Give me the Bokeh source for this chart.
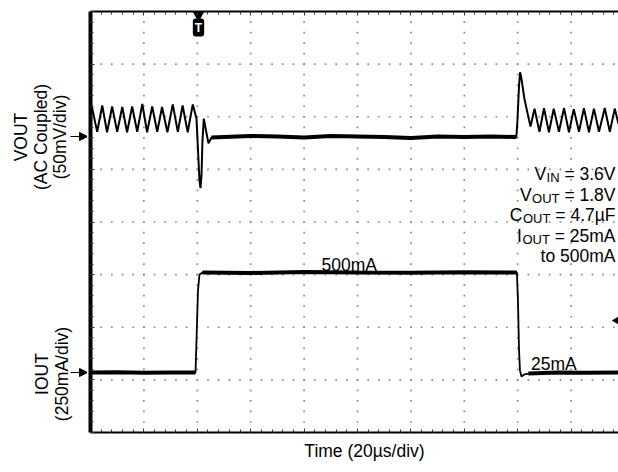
import numpy as np
from math import pi
from bokeh.plotting import figure
from bokeh.layouts import row, column
from bokeh.models import (Range1d, LinearAxis, SingleIntervalTicker, CustomJSTickFormatter,
                          Label, Arrow, NormalHead)
from bokeh.core.properties import value
from bokeh.embed import file_html
from bokeh.resources import INLINE

# ---------------- data ----------------
# VOUT, AC coupled, mV relative to the heavy-load level; time in µs from trigger
vout_t = [-40.0, -39.6, -37.5, -35.6, -33.8, -31.9, -30.0, -28.1, -26.3, -24.4, -22.5,
          -20.6, -18.8, -16.9, -15.0, -13.2, -11.2, -9.2, -7.3, -5.5, -3.6, -1.7,
          -0.3, 0.26, 0.82, 1.19, 1.57, 1.94, 2.43, 3.25, 4.19, 5.31,
          10, 20, 30, 40, 50, 60, 70, 80, 90, 100, 110, 119.5,
          119.9, 120.5, 120.9, 121.4, 122.5, 123.7, 124.8,
          126.3, 128.15, 129.85, 131.7, 133.5, 135.45, 137.35, 139.2, 141.0, 142.95,
          144.8, 146.7, 148.55, 150.45, 152.6, 154.5, 156.35, 157.75]
vout_mv = [24, 29.5, 4.5, 29.5, 4.0, 28.5, 4.5, 28, 4, 28.5, 4.5,
           31, 4, 28.5, 4.5, 28, 4, 30.5, 4.5, 29.5, 4, 30.5,
           17, -13, -42, -49, -37, -4, 17, 5.7, -6.5, -1,
           -0.5, 0.5, 0, -1, 0.5, 0, -0.5, -1.5, 0, -0.5, 0, -0.5,
           15, 48.5, 61, 55, 36, 22, 9.5,
           26.5, 4.5, 27, 4, 26.5, 4.5, 27, 4, 26, 4.5,
           27, 4, 26.5, 4.5, 27, 4.5, 26.5, 12]
# IOUT in mA
iout_t = [-40, -30, -20, -10, -0.68, -0.3, 0.26, 0.82, 1.94, 20, 40, 60, 80, 100,
          119.7, 120.1, 120.5, 120.85, 121.4, 122.5, 124.0, 135, 145, 157.75]
iout_ma = [25, 26, 24, 25, 25, 177, 415, 491, 500, 498, 502, 500, 499, 501,
           500, 367, 130, 35, 6, 16, 20, 25, 24, 25]

vout_label_lines = ["VOUT", "(AC Coupled)", "(50mV/div)"]
iout_label_lines = ["IOUT", "(250mA/div)"]
x_label = "Time (20µs/div)"
level_labels = ["500mA", "25mA"]
cond_base = ["V", "V", "C", "I"]
cond_sub = ["IN", "OUT", "OUT", "OUT"]
cond_val = ["= 3.6V", "= 1.8V", "= 4.7µF", "= 25mA"]
cond_extra = "to 500mA"

US_PER_DIV = 20
MV_PER_DIV = 50
MA_PER_DIV = 250
T_LEFT = -40.0

# ---------------- layout (page pixels) ----------------
PAGE_W = 618
STRIP_W = 87          # left label strip
MAIN_BL = 3           # main figure left border
FR_L = STRIP_W + MAIN_BL
FR_T, FR_B = 11, 432
MAIN_BB = 2
MAIN_H = FR_B + MAIN_BB
BOT_H = 33
VIS_R = PAGE_W
PX_DIV_X = 53.4
PX_DIV_Y = (FR_B - FR_T) / 8.0
FONT = "Liberation Sans"
FS = 17.5

def tx(px):
    return T_LEFT + (px - FR_L) / PX_DIV_X * US_PER_DIV

def dy(py):
    return (FR_B - py) / PX_DIV_Y

vout_zero_div = dy(136.0)
iout_zero_div = dy(372.0) - 25.0 / MA_PER_DIV

# ---------------- main scope figure ----------------
p = figure(width=PAGE_W - STRIP_W, height=MAIN_H, output_backend="svg", toolbar_location=None,
           x_range=Range1d(T_LEFT, tx(VIS_R)), y_range=Range1d(0, 8),
           min_border_left=MAIN_BL, min_border_right=0,
           min_border_top=FR_T, min_border_bottom=MAIN_BB,
           background_fill_color="white", border_fill_color="white")
p.outline_line_color = None
p.xgrid.visible = False
p.ygrid.visible = False
p.extra_y_ranges = {
    "vout": Range1d(-vout_zero_div * MV_PER_DIV, (8 - vout_zero_div) * MV_PER_DIV),
    "iout": Range1d(-iout_zero_div * MA_PER_DIV, (8 - iout_zero_div) * MA_PER_DIV),
}

blank = CustomJSTickFormatter(code="return ''")

def style_axis(ax, width):
    ax.axis_line_width = width
    ax.axis_line_color = "black"
    ax.major_tick_in = 4
    ax.major_tick_out = 0
    ax.minor_tick_in = 3
    ax.minor_tick_out = 0
    ax.major_tick_line_color = "#333333"
    ax.minor_tick_line_color = "#333333"
    ax.formatter = blank
    ax.major_label_text_font_size = "0px"
    ax.major_label_standoff = 0

p.xaxis.ticker = SingleIntervalTicker(interval=US_PER_DIV, num_minor_ticks=5)
p.yaxis.ticker = SingleIntervalTicker(interval=1, num_minor_ticks=5)
style_axis(p.xaxis[0], 2)
style_axis(p.yaxis[0], 4)
top = LinearAxis(ticker=SingleIntervalTicker(interval=US_PER_DIV, num_minor_ticks=5))
style_axis(top, 2)
p.add_layout(top, "above")

# dotted graticule
gx, gy = [], []
for d in range(1, 8):
    xs = T_LEFT + np.arange(0, 51) * 0.2 * US_PER_DIV
    gx.extend(xs); gy.extend([d] * len(xs))
for d in range(1, 10):
    ys = np.arange(0, 41) * 0.2
    gx.extend([T_LEFT + d * US_PER_DIV] * len(ys)); gy.extend(ys)
p.scatter(gx, gy, marker="square", size=1.7, fill_color="#8a8a8a", line_color=None)

# traces
vt = np.array(vout_t); vm = np.array(vout_mv)
p.line(vt, vm, y_range_name="vout", line_color="black", line_width=2.0)
i0 = vout_t.index(5.31); i1 = vout_t.index(119.5)
p.line(vt[i0:i1 + 1], vm[i0:i1 + 1], y_range_name="vout", line_color="black", line_width=4)

it = np.array(iout_t); im = np.array(iout_ma)
p.line(it, im, y_range_name="iout", line_color="black", line_width=1.8)
for a, b in [(0, 4), (8, 14), (20, len(iout_t) - 1)]:
    p.line(it[a:b + 1], im[a:b + 1], y_range_name="iout", line_color="black", line_width=4)

# markers
p.scatter([tx(198)], [dy(13.5)], marker="inverted_triangle", size=12,
          fill_color="black", line_color="black")
p.scatter([tx(619)], [dy(320)], marker="triangle", angle=pi / 2, size=12,
          fill_color="black", line_color="black")
p.add_layout(Label(x=tx(198), y=dy(27), text="T", text_color="white",
                   text_font=FONT, text_font_style="bold", text_font_size="12px",
                   text_align="center", text_baseline="middle",
                   background_fill_color="black", border_radius=3, padding=2))

# level labels
p.text([tx(321), tx(530.5)], [dy(264), dy(363.5)], text=level_labels,
       text_font=value(FONT), text_font_size=value(f"{FS}px"), text_color="black",
       text_align="left", text_baseline="alphabetic")

# conditions block (right aligned, with subscripts)
AW = {'=': 584, ' ': 278, '.': 278, 'V': 667, 'µ': 576, 'F': 611, 'm': 833, 'A': 667,
      'I': 278, 'N': 722, 'O': 778, 'U': 722, 'T': 611, 'C': 722, 't': 278, 'o': 556}

def width(s, fs):
    return sum(AW.get(c, 556) for c in s) / 1000.0 * fs

R = 615.0
SUB = 13.0
baselines = [173.5, 194.0, 214.5, 235.0]
bx, by, bt, sx, sy, st, mx, my, mt = [], [], [], [], [], [], [], [], []
for base, sub, val, bl in zip(cond_base, cond_sub, cond_val, baselines):
    mx.append(tx(R)); my.append(dy(bl)); mt.append(val)
    sr = R - width(val, FS) - width(" ", FS)
    sx.append(tx(sr)); sy.append(dy(bl + 3.5)); st.append(sub)
    br = sr - width(sub, SUB) - 0.5
    bx.append(tx(br)); by.append(dy(bl)); bt.append(base)
mx.append(tx(R)); my.append(dy(255.5)); mt.append(cond_extra)
common = dict(text_font=value(FONT), text_color="black", text_align="right",
              text_baseline="alphabetic")
p.text(mx, my, text=mt, text_font_size=value(f"{FS}px"), **common)
p.text(bx, by, text=bt, text_font_size=value(f"{FS}px"), **common)
p.text(sx, sy, text=st, text_font_size=value(f"{SUB}px"), **common)

# ---------------- left strip: same vertical frame as the scope ----------------
left = figure(width=STRIP_W, height=MAIN_H, output_backend="svg", toolbar_location=None,
              x_range=Range1d(0, STRIP_W), y_range=Range1d(0, FR_B - FR_T),
              x_axis_location=None, y_axis_location=None,
              min_border_left=0, min_border_right=0,
              min_border_top=FR_T, min_border_bottom=MAIN_BB,
              background_fill_color="white", border_fill_color="white")
left.outline_line_color = None
left.xgrid.visible = False
left.ygrid.visible = False
ly = lambda py: FR_B - py
left.text([20, 40.5, 59], [ly(136.5)] * 3, text=vout_label_lines, angle=pi / 2,
          text_align="center", text_baseline="middle", text_font=value(FONT),
          text_font_size=value(f"{FS}px"), text_color="black")
left.text([41.5, 61.5], [ly(373.5)] * 2, text=iout_label_lines, angle=pi / 2,
          text_align="center", text_baseline="middle", text_font=value(FONT),
          text_font_size=value(f"{FS}px"), text_color="black")
for py in [136.0, 372.0]:
    left.add_layout(Arrow(end=NormalHead(size=8, fill_color="black", line_color="black"),
                          x_start=70, y_start=ly(py), x_end=STRIP_W, y_end=ly(py),
                          line_color="black", line_width=1.2))

# ---------------- bottom strip: time caption ----------------
bottom = figure(width=PAGE_W, height=BOT_H, output_backend="svg", toolbar_location=None,
                x_range=Range1d(0, PAGE_W), y_range=Range1d(0, BOT_H),
                x_axis_location=None, y_axis_location=None, min_border=0,
                background_fill_color="white", border_fill_color="white")
bottom.outline_line_color = None
bottom.xgrid.visible = False
bottom.ygrid.visible = False
bottom.text([364], [BOT_H / 2], text=[x_label], text_align="center",
            text_baseline="middle", text_font=value(FONT),
            text_font_size=value(f"{FS}px"), text_color="black")

layout = column(row(left, p, spacing=0), bottom, spacing=0)
open("out.html", "w").write(file_html(layout, INLINE))
